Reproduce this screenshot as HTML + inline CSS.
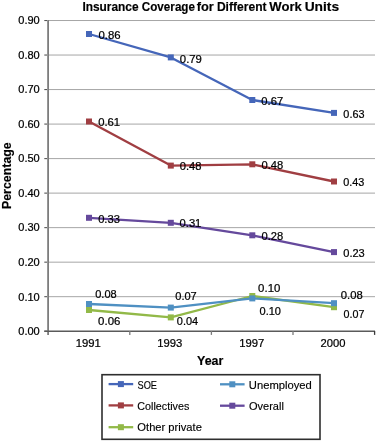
<!DOCTYPE html>
<html><head><meta charset="utf-8"><title>Insurance Coverage for Different Work Units</title>
<style>
html,body{margin:0;padding:0;background:#fff;}
svg{display:block;will-change:transform;}
.l{font-family:"Liberation Sans", sans-serif;font-size:10.7px;fill:#000;stroke:#000;stroke-width:0.22px;}
.g{font-family:"Liberation Sans", sans-serif;font-size:10.5px;fill:#000;stroke:#000;stroke-width:0.14px;}
.b{font-family:"Liberation Sans", sans-serif;font-size:12.2px;font-weight:bold;fill:#000;stroke:#000;stroke-width:0.15px;}
</style></head><body>
<svg width="376" height="441" viewBox="0 0 376 441">
<rect x="0" y="0" width="376" height="441" fill="#fff"/>
<line x1="48" y1="296.68" x2="375" y2="296.68" stroke="#a6a6a6" stroke-width="1"/>
<line x1="48" y1="262.16" x2="375" y2="262.16" stroke="#a6a6a6" stroke-width="1"/>
<line x1="48" y1="227.64" x2="375" y2="227.64" stroke="#a6a6a6" stroke-width="1"/>
<line x1="48" y1="193.12" x2="375" y2="193.12" stroke="#a6a6a6" stroke-width="1"/>
<line x1="48" y1="158.60" x2="375" y2="158.60" stroke="#a6a6a6" stroke-width="1"/>
<line x1="48" y1="124.08" x2="375" y2="124.08" stroke="#a6a6a6" stroke-width="1"/>
<line x1="48" y1="89.56" x2="375" y2="89.56" stroke="#a6a6a6" stroke-width="1"/>
<line x1="48" y1="55.04" x2="375" y2="55.04" stroke="#a6a6a6" stroke-width="1"/>
<line x1="48" y1="20.52" x2="375" y2="20.52" stroke="#a6a6a6" stroke-width="1"/>
<line x1="44.3" y1="331.20" x2="48" y2="331.20" stroke="#555" stroke-width="1.1"/>
<text x="18.26" y="335.03" class="l" textLength="21.47" lengthAdjust="spacingAndGlyphs">0.00</text>
<line x1="44.3" y1="296.68" x2="48" y2="296.68" stroke="#555" stroke-width="1.1"/>
<text x="18.26" y="300.51" class="l" textLength="21.47" lengthAdjust="spacingAndGlyphs">0.10</text>
<line x1="44.3" y1="262.16" x2="48" y2="262.16" stroke="#555" stroke-width="1.1"/>
<text x="18.26" y="265.99" class="l" textLength="21.47" lengthAdjust="spacingAndGlyphs">0.20</text>
<line x1="44.3" y1="227.64" x2="48" y2="227.64" stroke="#555" stroke-width="1.1"/>
<text x="18.26" y="231.47" class="l" textLength="21.47" lengthAdjust="spacingAndGlyphs">0.30</text>
<line x1="44.3" y1="193.12" x2="48" y2="193.12" stroke="#555" stroke-width="1.1"/>
<text x="18.26" y="196.95" class="l" textLength="21.47" lengthAdjust="spacingAndGlyphs">0.40</text>
<line x1="44.3" y1="158.60" x2="48" y2="158.60" stroke="#555" stroke-width="1.1"/>
<text x="18.26" y="162.43" class="l" textLength="21.47" lengthAdjust="spacingAndGlyphs">0.50</text>
<line x1="44.3" y1="124.08" x2="48" y2="124.08" stroke="#555" stroke-width="1.1"/>
<text x="18.26" y="127.91" class="l" textLength="21.47" lengthAdjust="spacingAndGlyphs">0.60</text>
<line x1="44.3" y1="89.56" x2="48" y2="89.56" stroke="#555" stroke-width="1.1"/>
<text x="18.26" y="93.39" class="l" textLength="21.47" lengthAdjust="spacingAndGlyphs">0.70</text>
<line x1="44.3" y1="55.04" x2="48" y2="55.04" stroke="#555" stroke-width="1.1"/>
<text x="18.26" y="58.87" class="l" textLength="21.47" lengthAdjust="spacingAndGlyphs">0.80</text>
<line x1="44.3" y1="20.52" x2="48" y2="20.52" stroke="#555" stroke-width="1.1"/>
<text x="18.26" y="24.35" class="l" textLength="21.47" lengthAdjust="spacingAndGlyphs">0.90</text>
<rect x="47" y="20" width="1" height="315" fill="#969696"/>
<rect x="48" y="20" width="1" height="315" fill="#7d7d7d"/>
<line x1="44.3" y1="331.25" x2="375" y2="331.25" stroke="#5a5a5a" stroke-width="1.5"/>
<line x1="129.80" y1="331" x2="129.80" y2="334.9" stroke="#7a7a7a" stroke-width="1.3"/>
<line x1="211.40" y1="331" x2="211.40" y2="334.9" stroke="#7a7a7a" stroke-width="1.3"/>
<line x1="293.00" y1="331" x2="293.00" y2="334.9" stroke="#7a7a7a" stroke-width="1.3"/>
<line x1="374.60" y1="331" x2="374.60" y2="334.9" stroke="#3a3a3a" stroke-width="1.3"/>
<text x="75.75" y="347.06" class="l" textLength="25.11" lengthAdjust="spacingAndGlyphs">1991</text>
<text x="157.16" y="347.06" class="l" textLength="25.05" lengthAdjust="spacingAndGlyphs">1993</text>
<text x="239.25" y="347.06" class="l" textLength="25.14" lengthAdjust="spacingAndGlyphs">1997</text>
<text x="320.64" y="347.06" class="l" textLength="24.90" lengthAdjust="spacingAndGlyphs">2000</text>
<polyline points="89.00,310.00 170.80,317.40 252.30,296.00 334.00,307.20" fill="none" stroke="#92B948" stroke-width="2.3" stroke-linejoin="round"/>
<rect x="86.00" y="307.00" width="6" height="6" fill="#92B948"/>
<rect x="167.80" y="314.40" width="6" height="6" fill="#92B948"/>
<rect x="249.30" y="293.00" width="6" height="6" fill="#92B948"/>
<rect x="331.00" y="304.20" width="6" height="6" fill="#92B948"/>
<polyline points="89.00,304.00 170.80,307.60 252.30,298.40 334.00,303.20" fill="none" stroke="#4F90C2" stroke-width="2.3" stroke-linejoin="round"/>
<rect x="86.00" y="301.00" width="6" height="6" fill="#4F90C2"/>
<rect x="167.80" y="304.60" width="6" height="6" fill="#4F90C2"/>
<rect x="249.30" y="295.40" width="6" height="6" fill="#4F90C2"/>
<rect x="331.00" y="300.20" width="6" height="6" fill="#4F90C2"/>
<polyline points="89.00,217.80 170.80,222.80 252.30,235.30 334.00,252.10" fill="none" stroke="#65499C" stroke-width="2.3" stroke-linejoin="round"/>
<rect x="86.00" y="214.80" width="6" height="6" fill="#65499C"/>
<rect x="167.80" y="219.80" width="6" height="6" fill="#65499C"/>
<rect x="249.30" y="232.30" width="6" height="6" fill="#65499C"/>
<rect x="331.00" y="249.10" width="6" height="6" fill="#65499C"/>
<polyline points="89.00,121.50 170.80,165.60 252.30,164.30 334.00,181.50" fill="none" stroke="#A03E42" stroke-width="2.3" stroke-linejoin="round"/>
<rect x="86.00" y="118.50" width="6" height="6" fill="#A03E42"/>
<rect x="167.80" y="162.60" width="6" height="6" fill="#A03E42"/>
<rect x="249.30" y="161.30" width="6" height="6" fill="#A03E42"/>
<rect x="331.00" y="178.50" width="6" height="6" fill="#A03E42"/>
<polyline points="89.00,34.00 170.80,57.40 252.30,100.00 334.00,112.90" fill="none" stroke="#4566B9" stroke-width="2.3" stroke-linejoin="round"/>
<rect x="86.00" y="31.00" width="6" height="6" fill="#4566B9"/>
<rect x="167.80" y="54.40" width="6" height="6" fill="#4566B9"/>
<rect x="249.30" y="97.00" width="6" height="6" fill="#4566B9"/>
<rect x="331.00" y="109.90" width="6" height="6" fill="#4566B9"/>
<text x="98.14" y="324.86" class="l" textLength="22.26" lengthAdjust="spacingAndGlyphs">0.06</text>
<text x="176.86" y="324.56" class="l" textLength="21.36" lengthAdjust="spacingAndGlyphs">0.04</text>
<text x="259.56" y="314.96" class="l" textLength="21.47" lengthAdjust="spacingAndGlyphs">0.10</text>
<text x="343.57" y="317.56" class="l" textLength="20.88" lengthAdjust="spacingAndGlyphs">0.07</text>
<text x="95.26" y="297.66" class="l" textLength="21.42" lengthAdjust="spacingAndGlyphs">0.08</text>
<text x="175.26" y="299.96" class="l" textLength="21.51" lengthAdjust="spacingAndGlyphs">0.07</text>
<text x="258.14" y="291.66" class="l" textLength="22.20" lengthAdjust="spacingAndGlyphs">0.10</text>
<text x="340.85" y="298.56" class="l" textLength="21.95" lengthAdjust="spacingAndGlyphs">0.08</text>
<text x="98.15" y="222.66" class="l" textLength="21.74" lengthAdjust="spacingAndGlyphs">0.33</text>
<text x="179.55" y="226.66" class="l" textLength="21.80" lengthAdjust="spacingAndGlyphs">0.31</text>
<text x="261.55" y="239.86" class="l" textLength="21.74" lengthAdjust="spacingAndGlyphs">0.28</text>
<text x="343.26" y="256.96" class="l" textLength="21.53" lengthAdjust="spacingAndGlyphs">0.23</text>
<text x="98.15" y="126.26" class="l" textLength="22.00" lengthAdjust="spacingAndGlyphs">0.61</text>
<text x="179.75" y="169.96" class="l" textLength="21.74" lengthAdjust="spacingAndGlyphs">0.48</text>
<text x="261.55" y="169.26" class="l" textLength="21.74" lengthAdjust="spacingAndGlyphs">0.48</text>
<text x="343.27" y="186.26" class="l" textLength="21.11" lengthAdjust="spacingAndGlyphs">0.43</text>
<text x="98.54" y="38.86" class="l" textLength="22.15" lengthAdjust="spacingAndGlyphs">0.86</text>
<text x="179.85" y="62.56" class="l" textLength="22.08" lengthAdjust="spacingAndGlyphs">0.79</text>
<text x="261.35" y="105.06" class="l" textLength="21.82" lengthAdjust="spacingAndGlyphs">0.67</text>
<text x="343.37" y="117.76" class="l" textLength="21.11" lengthAdjust="spacingAndGlyphs">0.63</text>
<text x="82.40" y="10.90" class="b" textLength="56.21" lengthAdjust="spacingAndGlyphs">Insurance</text>
<text x="141.83" y="10.90" class="b" textLength="53.15" lengthAdjust="spacingAndGlyphs">Coverage</text>
<text x="196.78" y="10.90" class="b" textLength="17.09" lengthAdjust="spacingAndGlyphs">for</text>
<text x="216.88" y="10.90" class="b" textLength="49.68" lengthAdjust="spacingAndGlyphs">Different</text>
<text x="269.27" y="10.90" class="b" textLength="32.53" lengthAdjust="spacingAndGlyphs">Work</text>
<text x="304.67" y="10.90" class="b" textLength="34.48" lengthAdjust="spacingAndGlyphs">Units</text>
<text x="197.08" y="364.50" class="b" textLength="26.28" lengthAdjust="spacingAndGlyphs" style="font-size:12.4px">Year</text>
<text transform="translate(10.5,209.04) rotate(-90)" class="b" style="font-size:12.4px" textLength="66.76" lengthAdjust="spacingAndGlyphs">Percentage</text>
<rect x="102" y="374.7" width="218" height="64.6" fill="none" stroke="#2e2e2e" stroke-width="1.6"/>
<line x1="108.60" y1="384.10" x2="133.20" y2="384.10" stroke="#4566B9" stroke-width="2.3"/>
<rect x="117.90" y="381.10" width="6" height="6" fill="#4566B9"/>
<text x="137.48" y="388.50" class="g" textLength="19.50" lengthAdjust="spacingAndGlyphs">SOE</text>
<line x1="108.60" y1="405.40" x2="133.20" y2="405.40" stroke="#A03E42" stroke-width="2.3"/>
<rect x="117.90" y="402.40" width="6" height="6" fill="#A03E42"/>
<text x="137.36" y="409.70" class="g" textLength="51.91" lengthAdjust="spacingAndGlyphs">Collectives</text>
<line x1="108.60" y1="427.20" x2="133.20" y2="427.20" stroke="#92B948" stroke-width="2.3"/>
<rect x="117.90" y="424.20" width="6" height="6" fill="#92B948"/>
<text x="137.37" y="431.00" class="g" textLength="64.51" lengthAdjust="spacingAndGlyphs">Other private</text>
<line x1="220.00" y1="384.30" x2="244.60" y2="384.30" stroke="#4F90C2" stroke-width="2.3"/>
<rect x="229.30" y="381.30" width="6" height="6" fill="#4F90C2"/>
<text x="248.83" y="388.50" class="g" textLength="62.99" lengthAdjust="spacingAndGlyphs">Unemployed</text>
<line x1="220.00" y1="405.70" x2="244.60" y2="405.70" stroke="#65499C" stroke-width="2.3"/>
<rect x="229.30" y="402.70" width="6" height="6" fill="#65499C"/>
<text x="248.98" y="409.90" class="g" textLength="34.87" lengthAdjust="spacingAndGlyphs">Overall</text>
</svg>
</body></html>
